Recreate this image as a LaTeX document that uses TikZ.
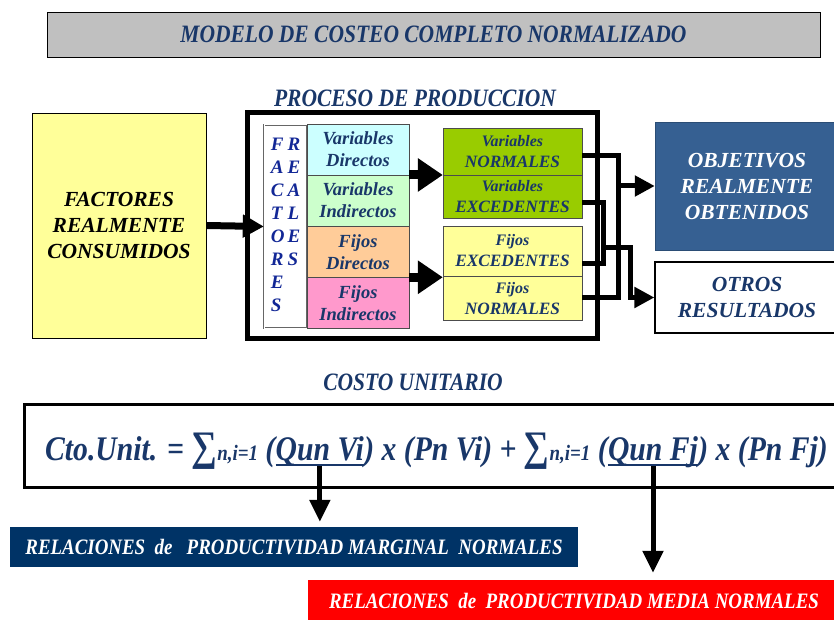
\documentclass[tikz,border=0pt]{standalone}
\usepackage{fontspec}
\setmainfont{Liberation Serif}
\newfontfamily\condfont[FakeStretch=0.86]{Liberation Serif}
\usepackage{xcolor}
\usepackage{tikz}
\usetikzlibrary{arrows.meta, positioning}
\definecolor{navytext}{RGB}{25,55,105}
\definecolor{titlegray}{RGB}{192,192,192}
\definecolor{factyellow}{RGB}{255,255,153}
\definecolor{varcyan}{RGB}{204,255,255}
\definecolor{vargreen}{RGB}{204,255,204}
\definecolor{fijorange}{RGB}{255,204,153}
\definecolor{fijpink}{RGB}{255,153,204}
\definecolor{normgreen}{RGB}{153,204,0}
\definecolor{objblue}{RGB}{54,96,146}
\definecolor{margnavy}{RGB}{0,51,102}
\definecolor{mediared}{RGB}{255,0,0}
\newcommand{\sumfont}{\fontsize{42}{42}\selectfont}
\newcommand{\idxfont}{\fontsize{22}{22}\selectfont}
\tikzset{
    titlebox/.style={rectangle, draw, fill=titlegray, minimum width=773pt, minimum height=45pt, text=navytext, font=\condfont\bfseries\itshape\fontsize{25}{25}\selectfont},
    heading/.style={text=navytext, font=\condfont\bfseries\itshape\fontsize{25}{25}\selectfont},
    bigbox/.style={rectangle, draw, align=center, font=\bfseries\itshape\fontsize{21.5}{26}\selectfont},
    cell/.style={rectangle, draw=black!70, minimum width=102pt, minimum height=50.75pt, inner sep=0pt, align=center, text=navytext, font=\bfseries\itshape\fontsize{18.5}{22}\selectfont},
    outcell/.style={rectangle, draw=black!70, minimum width=139pt, inner sep=0pt, align=center, text=navytext, font=\bfseries\itshape\fontsize{17.3}{21}\selectfont},
    formula/.style={inner sep=0pt, anchor=base west, text=navytext, font=\condfont\bfseries\itshape\fontsize{34.5}{34.5}\selectfont},
    relbox/.style={rectangle, text=white, font=\condfont\bfseries\itshape\fontsize{22}{22}\selectfont},
    bigarrow/.style={-{Triangle[length=25pt,width=32pt]}, line width=9pt},
    arrow/.style={-{Triangle[length=21pt,width=22pt]}, line width=7pt},
    link/.style={line width=5pt, miter limit=4},
    linkarrow/.style={-{Triangle[length=20pt,width=20pt]}, line width=5pt},
    downarrow/.style={-{Triangle[length=22pt,width=20pt]}, line width=5pt},
    uline/.style={line width=2.5pt, navytext}
}
\begin{document}
\begin{tikzpicture}[x=1pt, y=-1pt]
    \useasboundingbox (0,0) rectangle (834,620);
    % title and headings
    \node (title) [titlebox] at (433.5,34.5) {MODELO DE COSTEO COMPLETO NORMALIZADO};
    \node (proctitle) [heading] at (415,98) {PROCESO DE PRODUCCION};
    \node (costotitle) [heading] at (413,382) {COSTO UNITARIO};

    % production process
    \node (factores) [bigbox, fill=factyellow, minimum width=174pt, minimum height=225pt] at (119,225.5) {FACTORES\\REALMENTE\\CONSUMIDOS};
    \node (proceso) [rectangle, draw, line width=5pt, minimum width=350pt, minimum height=225pt] at (422,225.5) {};
    \node (letras) [rectangle, draw=black!60, double=white, double distance=1pt, minimum width=43pt, minimum height=203pt, inner sep=0pt, text=navytext!70!blue] at (285.5,226.5)
        {\bfseries\itshape\fontsize{19}{23}\selectfont
         \begin{tabular}{@{}l@{\hspace{3pt}}l@{}}F&R\\A&E\\C&A\\T&L\\O&E\\R&S\\E&\\S&\end{tabular}};
    \node (vd) [cell, fill=varcyan] at (358,149.4) {Variables\\Directos};
    \node (vi) [cell, fill=vargreen, below=0pt of vd] {Variables\\Indirectos};
    \node (fd) [cell, fill=fijorange, below=0pt of vi] {Fijos\\Directos};
    \node (fi) [cell, fill=fijpink, below=0pt of fd] {Fijos\\Indirectos};

    \node (vn) [outcell, fill=normgreen, minimum height=46.75pt] at (512.5,151.4) {{\fontsize{16}{16}\selectfont Variables}\\NORMALES};
    \node (ve) [outcell, fill=normgreen, minimum height=43.25pt, below=0pt of vn] {{\fontsize{16}{16}\selectfont Variables}\\EXCEDENTES};
    \node (fe) [outcell, fill=factyellow, minimum height=50pt] at (512.5,251) {{\fontsize{16}{16}\selectfont Fijos}\\EXCEDENTES};
    \node (fn) [outcell, fill=factyellow, minimum height=44pt, below=0pt of fe] {{\fontsize{16}{16}\selectfont Fijos}\\NORMALES};

    \node (objetivos) [bigbox, fill=objblue, draw=objblue!80!black, text=white, minimum width=184pt, minimum height=128pt] at (747,186) {OBJETIVOS\\REALMENTE\\OBTENIDOS};
    \node (otros) [bigbox, fill=white, line width=1.2pt, text=navytext, minimum width=184pt, minimum height=71pt] at (747,297.5) {OTROS\\RESULTADOS};

    \draw[arrow] (factores.east) -- (letras.west);
    \draw[bigarrow] (vd.south east) -- (vd.south east -| vn.west);
    \draw[bigarrow] (fd.south east) -- (fd.south east -| fe.west);

    % normales to objetivos, excedentes to otros
    \coordinate (jn) at (618,186);
    \coordinate (je) at (603,247);
    \coordinate (jo) at (630,247);
    \draw[link] ([yshift=-4pt]vn.east) -| (jn) |- ([yshift=1pt]fn.east);
    \draw[linkarrow] (jn) -- (objetivos.west);
    \draw[link] ([yshift=-6pt]ve.east) -| (je) |- ([yshift=-12pt]fe.east);
    \draw[linkarrow] (je) -- (jo) |- (otros.west);

    % unit cost
    \node (formulabox) [rectangle, draw, line width=3pt, minimum width=821pt, minimum height=83pt] at (434.5,445.5) {};
    \node (f1) [formula] at (45,460) {Cto.Unit. = {\sumfont ∑}{\idxfont n,i=1} (};
    \node (qv) [formula] at (f1.base east) {Qun Vi};
    \node (f2) [formula] at (qv.base east) {) x (Pn Vi) + {\sumfont ∑}{\idxfont n,i=1} (};
    \node (qf) [formula] at (f2.base east) {Qun Fj};
    \node (f3) [formula] at (qf.base east) {) x (Pn Fj)};
    \draw[uline] ([yshift=-5pt]qv.base west) -- ([yshift=-5pt]qv.base east);
    \draw[uline] ([yshift=-5pt]qf.base west) -- ([yshift=-5pt]qf.base east);

    \node (marginal) [relbox, fill=margnavy, minimum width=568pt, minimum height=40pt] at (294,547) {RELACIONES\ \ de\ \ \ PRODUCTIVIDAD MARGINAL\ \ NORMALES};
    \node (media) [relbox, fill=mediared, minimum width=532pt, minimum height=45pt, text depth=0pt] at (574,602.5) {\raisebox{3pt}{RELACIONES\ \ de\ \ PRODUCTIVIDAD MEDIA NORMALES}};

    \draw[downarrow, shorten >=5pt] ([yshift=-6pt]qv.base) -- (qv.base |- marginal.north);
    \draw[downarrow, shorten >=7pt] ([yshift=-6pt]qf.base) -- (qf.base |- media.north);
\end{tikzpicture}
\end{document}
